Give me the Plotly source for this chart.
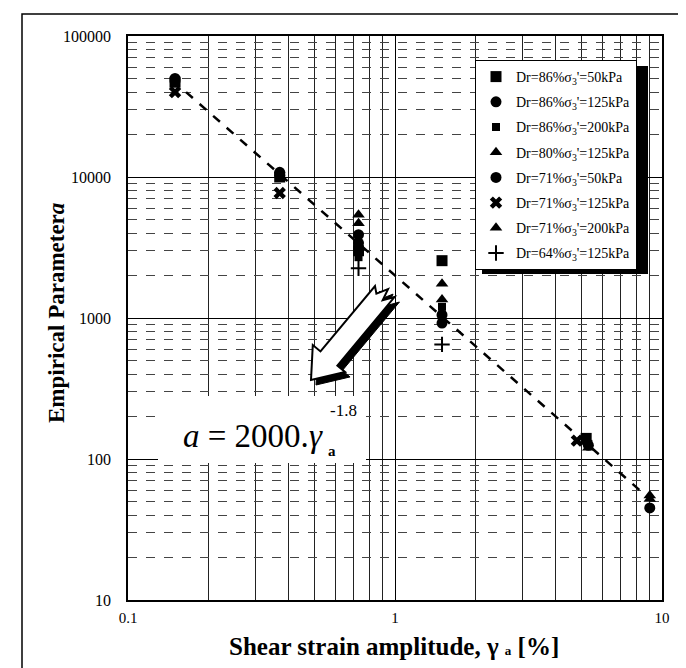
import plotly.graph_objects as go
import math

# ---------------- data ----------------
series_names = [
    "Dr=86%σ<sub>3</sub>'=50kPa",
    "Dr=86%σ<sub>3</sub>'=125kPa",
    "Dr=86%σ<sub>3</sub>'=200kPa",
    "Dr=80%σ<sub>3</sub>'=125kPa",
    "Dr=71%σ<sub>3</sub>'=50kPa",
    "Dr=71%σ<sub>3</sub>'=125kPa",
    "Dr=71%σ<sub>3</sub>'=200kPa",
    "Dr=64%σ<sub>3</sub>'=125kPa",
]
s1_x = [0.15, 0.37, 0.73, 1.5, 5.2]
s1_y = [47000, 10000, 3000, 2550, 140]
s2_x = [0.15, 0.37, 0.73, 1.5, 5.3]
s2_y = [50000, 10800, 3900, 1050, 125]
s3_x = [0.73, 1.5, 5.3]
s3_y = [2700, 1200, 128]
s4_x = [0.73, 1.5, 5.2, 9.0]
s4_y = [5400, 1750, 132, 55]
s5_x = [0.15, 0.37, 0.73, 1.5, 9.0]
s5_y = [48000, 10300, 3400, 920, 45]
s6_x = [0.15, 0.37, 4.8]
s6_y = [40000, 7700, 135]
s7_x = [0.73, 1.5, 5.3, 9.0]
s7_y = [4700, 1350, 120, 52]
s8_x = [0.73, 1.5]
s8_y = [2250, 650]

fit_x = [0.165, 9.0]
fit_y = [40000, 52]

x_tickvals = [0.1, 1, 10]
x_ticktext = ["0.1", "1", "10"]
y_tickvals = [10, 100, 1000, 10000, 100000]
y_ticktext = ["10", "100", "1000", "10000", "100000"]

# ---------------- figure ----------------
FONT = "Liberation Serif"
W, H = 686, 668
L, R, T, B = 120, 32, 28, 76
PW, PH = W - L - R, H - T - B

def px(x):
    return (x - L) / PW

def py(y):
    return (H - B - y) / PH

fig = go.Figure()

# fit line
fig.add_trace(go.Scatter(x=fit_x, y=fit_y, mode="lines",
                         line=dict(color="black", width=2.5, dash="dash"),
                         showlegend=False, hoverinfo="skip"))

xs = [s1_x, s2_x, s3_x, s4_x, s5_x, s6_x, s7_x, s8_x]
ys = [s1_y, s2_y, s3_y, s4_y, s5_y, s6_y, s7_y, s8_y]
symbols = ["square", "circle", "square", "triangle-up", "circle", "x", "triangle-up", "cross-thin-open"]
sizes = [11, 11, 8, 11, 11, 11, 11, 11]
for i in range(8):
    mk = dict(symbol=symbols[i], size=sizes[i], color="black",
              line=dict(color="black", width=2 if symbols[i] == "cross-thin-open" else 0))
    fig.add_trace(go.Scatter(x=xs[i], y=ys[i], mode="markers", name=series_names[i],
                             marker=mk, legendgroup=f"g{i}"))

shapes = []
# outer frame
shapes.append(dict(type="rect", xref="paper", yref="paper",
                   x0=px(14), x1=px(678), y0=py(662), y1=py(6),
                   line=dict(color="black", width=1.5), fillcolor="rgba(0,0,0,0)", layer="below"))
# white area behind formula
shapes.append(dict(type="rect", xref="paper", yref="paper",
                   x0=px(150), x1=px(358), y0=py(455), y1=py(388),
                   line=dict(width=0), fillcolor="white", layer="above"))
# legend shadow
shapes.append(dict(type="rect", xref="paper", yref="paper",
                   x0=px(474), x1=px(640), y0=py(266), y1=py(58),
                   line=dict(width=0), fillcolor="black", layer="above"))

# block arrow
tail = (378.0, 282.0)
tip = (303.0, 372.0)
dx, dy = tip[0] - tail[0], tip[1] - tail[1]
ln = math.hypot(dx, dy)
u = (dx / ln, dy / ln)
n = (u[1], -u[0])
hl, hw, sw = 28, 21, 11
bx, by = tip[0] - hl * u[0], tip[1] - hl * u[1]

def pt(cx, cy, a, b):
    return (cx + a * n[0] + b * u[0], cy + a * n[1] + b * u[1])

poly = [
    pt(tail[0], tail[1], sw, 0),
    pt(tail[0], tail[1], 4, 10),
    pt(tail[0], tail[1], 1, -2),
    pt(tail[0], tail[1], -5, 9),
    pt(tail[0], tail[1], -sw, 4),
    pt(bx, by, -sw, 0),
    pt(bx, by, -hw, 0),
    tip,
    pt(bx, by, hw, 0),
    pt(bx, by, sw, 0),
]

def path_of(points, ox=0, oy=0):
    s = ""
    for k, (a, b) in enumerate(points):
        s += ("M" if k == 0 else "L") + f"{px(a + ox):.5f},{py(b + oy):.5f} "
    return s + "Z"

shapes.append(dict(type="path", xref="paper", yref="paper", path=path_of(poly, 5, 5),
                   fillcolor="black", line=dict(color="black", width=1), layer="above"))
shapes.append(dict(type="path", xref="paper", yref="paper", path=path_of(poly),
                   fillcolor="white", line=dict(color="black", width=2), layer="above"))

annotations = [
    dict(x=px(48), y=py(305), xref="paper", yref="paper", xanchor="center", yanchor="middle",
         text="<b>Empirical Parameter<i>a</i></b>",
         textangle=-90, showarrow=False, font=dict(family=FONT, size=23, color="black")),
    dict(x=px(386), y=py(638), xref="paper", yref="paper", xanchor="center", yanchor="middle",
         text="<b>Shear strain amplitude, γ <span style='font-size:13px'>a</span> [%]</b>",
         showarrow=False, font=dict(family=FONT, size=25, color="black")),
    dict(x=px(173), y=py(428), xref="paper", yref="paper", xanchor="left", yanchor="middle",
         text="<i>a</i> = 2000.<i>γ</i>", showarrow=False,
         font=dict(family=FONT, size=33, color="black")),
    dict(x=px(324), y=py(443), xref="paper", yref="paper", xanchor="center", yanchor="middle",
         text="<b>a</b>", showarrow=False, font=dict(family=FONT, size=15, color="black")),
    dict(x=px(335), y=py(402), xref="paper", yref="paper", xanchor="center", yanchor="middle",
         text="-1.8", showarrow=False, font=dict(family=FONT, size=17, color="black")),
]

fig.update_layout(
    width=W, height=H,
    margin=dict(l=L, r=R, t=T, b=B),
    paper_bgcolor="white", plot_bgcolor="white",
    font=dict(family=FONT, size=14, color="black"),
    shapes=shapes, annotations=annotations,
    showlegend=True,
    legend=dict(x=px(467), y=py(52), xanchor="left", yanchor="top",
                bgcolor="white", bordercolor="black", borderwidth=1,
                font=dict(family=FONT, size=14, color="black"),
                tracegroupgap=4, itemwidth=30),
)
fig.update_xaxes(type="log", range=[-1, 1], tickvals=x_tickvals, ticktext=x_ticktext,
                 showline=True, linecolor="black", linewidth=1.5, mirror=True,
                 showgrid=True, gridcolor="black", gridwidth=1.2,
                 minor=dict(dtick="D1", showgrid=True, gridcolor="#222", gridwidth=1),
                 ticks="", ticklabelstandoff=3, zeroline=False,
                 tickfont=dict(family=FONT, size=15, color="black"))
fig.update_yaxes(type="log", range=[1, 5], tickvals=y_tickvals, ticktext=y_ticktext,
                 showline=True, linecolor="black", linewidth=1.5, mirror=True,
                 showgrid=True, gridcolor="black", gridwidth=1.2,
                 minor=dict(dtick="D1", showgrid=True, gridcolor="#444", gridwidth=1, griddash="dash"),
                 ticks="", ticklabelstandoff=12, zeroline=False,
                 tickfont=dict(family=FONT, size=16, color="black"))

fig.write_html("out.html")
